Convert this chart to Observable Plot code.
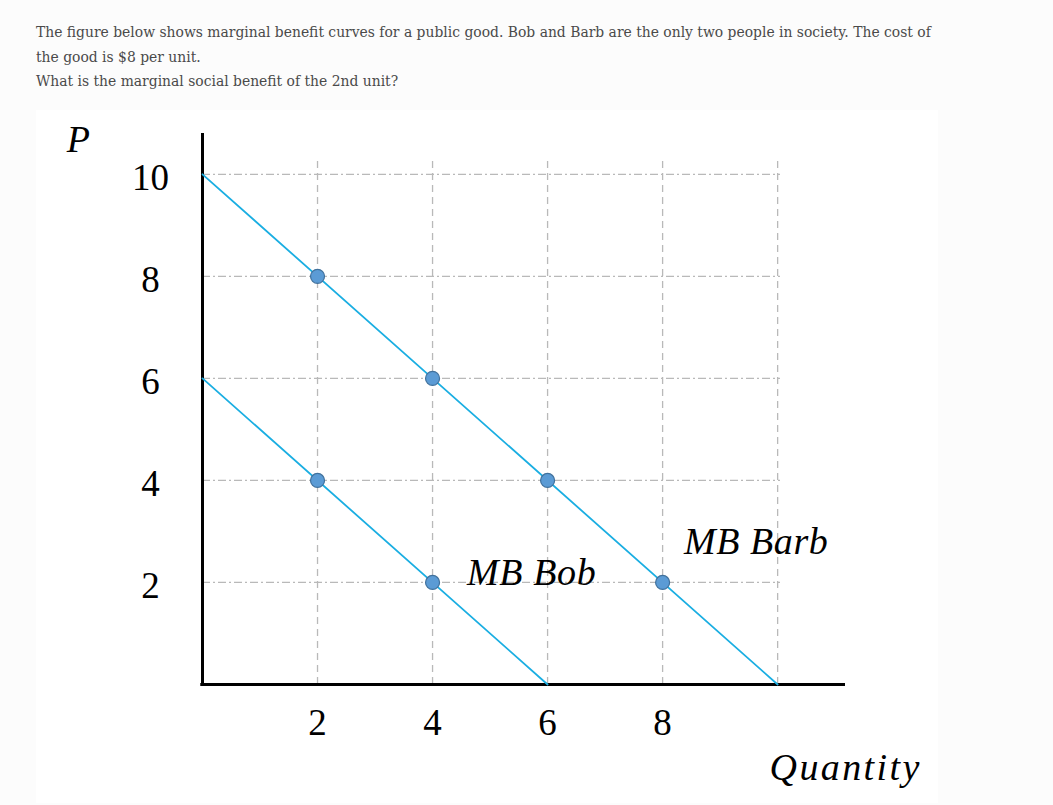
<!DOCTYPE html>
<html>
<head>
<meta charset="utf-8">
<script src="https://cdn.jsdelivr.net/npm/d3@7"></script>
<script src="https://cdn.jsdelivr.net/npm/@observablehq/plot@0.6"></script>
<style>
  html, body { margin: 0; padding: 0; background: #fcfcfc; }
  #page { position: relative; width: 1053px; height: 805px; overflow: hidden; }
  #question {
    position: absolute; left: 36px; top: 20px;
    font-family: "DejaVu Serif", serif; font-size: 13.9px; line-height: 24.5px;
    color: #4a4a4a; white-space: nowrap;
  }
  #chart { position: absolute; left: 36px; top: 110px; }
</style>
</head>
<body>
<div id="page">
  <div id="question">The figure below shows marginal benefit curves for a public good. Bob and Barb are the only two people in society. The cost of<br>the good is $8 per unit.<br>What is the marginal social benefit of the 2nd unit?</div>
  <div id="chart"></div>
</div>
<script>
// Data
const barbQ = [0, 10];
const barbP = [10, 0];
const bobQ = [0, 6];
const bobP = [6, 0];
const barbPointQ = [2, 4, 6, 8];
const barbPointP = [8, 6, 4, 2];
const bobPointQ = [2, 4];
const bobPointP = [4, 2];
const xTicks = [2, 4, 6, 8];
const yTicks = [2, 4, 6, 8, 10];
const gridValues = [2, 4, 6, 8, 10];

const barb = barbQ.map((q, i) => ({q, p: barbP[i]}));
const bob = bobQ.map((q, i) => ({q, p: bobP[i]}));
const points = [
  ...barbPointQ.map((q, i) => ({q, p: barbPointP[i]})),
  ...bobPointQ.map((q, i) => ({q, p: bobPointP[i]}))
];

const lineColor = "#1aaee2";
const gridColor = "#b9b9b9";
const serif = "Liberation Serif";

const chart = Plot.plot({
  width: 902,
  height: 693,
  marginLeft: 166,
  marginRight: 93,
  marginTop: 23,
  marginBottom: 119,
  x: {domain: [0, 11.18], axis: null},
  y: {domain: [0, 10.8], axis: null},
  style: {background: "white", overflow: "visible"},
  marks: [
    Plot.ruleX(gridValues, {y1: 0, y2: 10.27, stroke: gridColor, strokeWidth: 1.3, strokeDasharray: "7,5"}),
    Plot.ruleY(gridValues, {x1: 0, x2: 10.05, stroke: gridColor, strokeWidth: 1.3, strokeDasharray: "8,3,2,3"}),
    Plot.ruleX([0], {y1: -0.04, y2: 10.8, stroke: "black", strokeWidth: 3}),
    Plot.ruleY([0], {x1: -0.03, x2: 11.18, stroke: "black", strokeWidth: 3}),
    Plot.line(barb, {x: "q", y: "p", stroke: lineColor, strokeWidth: 1.8}),
    Plot.line(bob, {x: "q", y: "p", stroke: lineColor, strokeWidth: 1.8}),
    Plot.dot(points, {x: "q", y: "p", r: 7, fill: "#5b9bd5", stroke: "#41719c", strokeWidth: 1.2}),
    Plot.text(yTicks, {x: 0, y: d => d, text: d => String(d), dx: -52, dy: 4, textAnchor: "middle",
      fontSize: 37, fontFamily: serif, fill: "black"}),
    Plot.text(xTicks, {x: d => d, y: 0, text: d => String(d), dy: 39, textAnchor: "middle",
      fontSize: 37, fontFamily: serif, fill: "black"}),
    Plot.text(["MB Bob"], {x: 4.6, y: 2.18, text: d => d, textAnchor: "start",
      fontSize: 38, fontStyle: "italic", fontFamily: serif, fill: "black"}),
    Plot.text(["MB Barb"], {x: 8.37, y: 2.8, text: d => d, textAnchor: "start",
      fontSize: 38, fontStyle: "italic", fontFamily: serif, fill: "black"}),
    Plot.text(["P"], {x: -2.16, y: 10.67, text: d => d, textAnchor: "middle",
      fontSize: 38, fontStyle: "italic", fontFamily: serif, fill: "black"}),
    Plot.text(["Quantity"], {x: 9.86, y: -1.63, text: d => d, textAnchor: "start",
      fontSize: 38, fontStyle: "italic", fontFamily: serif, fill: "black"})
  ]
});
// letter spacing (styling only)
const spacing = {"Quantity": "2.4px", "MB Bob": "0.6px", "MB Barb": "0.6px"};
d3.select(chart).selectAll("text").each(function() {
  const s = spacing[this.textContent];
  if (s) this.setAttribute("letter-spacing", s);
});
document.getElementById("chart").appendChild(chart);
</script>
</body>
</html>
